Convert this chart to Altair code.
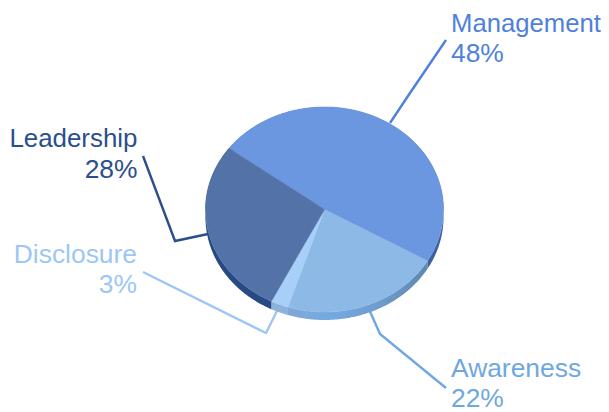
import numpy as np
import pandas as pd
import altair as alt

# Slice data, clockwise from the Management/Leadership boundary
names = ["Management", "Awareness", "Disclosure", "Leadership"]
shares = [48.2, 21.6, 2.4, 27.8]
percent_labels = ["48%", "22%", "3%", "28%"]
top_colors = ["#6b97e0", "#8db9e6", "#a8cff7", "#5272a8"]
side_colors = ["#3c60a0", "#6fa3d8", "#8eb3da", "#274a83"]
text_colors = ["#4f81db", "#6fa8e0", "#9cc7f5", "#2b4f8c"]

# Leader lines (screen pixels)
leader_x = [[390, 410, 446], [368, 380, 446], [279, 266, 143], [208, 175, 143]]
leader_y = [[123, 93, 40], [307, 334, 388], [307, 333, 272], [234, 241, 156]]

# Label anchors
name_x = [451, 451, 137, 137.5]
name_y = [32, 377, 263, 147]
pct_y = [62, 406.5, 293, 178]
label_align = ["left", "left", "right", "right"]
name_size = [25.7, 26.4, 26.4, 25.9]

cx, cy, rx, ry, depth = 324.5, 209.5, 119, 102.5, 8
start_deg = 306.6

X = alt.X("x:Q", scale=alt.Scale(domain=[8, 601]), axis=None)
Y = alt.Y("y:Q", scale=alt.Scale(domain=[412, 8]), axis=None)


def rim(a0, a1):
    t = np.radians(np.linspace(a0, a1, max(int(abs(a1 - a0)) * 2, 8)))
    return cx + rx * np.sin(t), cy - ry * np.cos(t)


def polygon(frame_x, frame_y, fill, stroke=None):
    df = pd.DataFrame({"x": frame_x, "y": frame_y, "i": range(len(frame_x))})
    kw = dict(fill=fill, interpolate="linear-closed", strokeWidth=0.6)
    kw["stroke"] = stroke if stroke else "transparent"
    return alt.Chart(df).mark_line(**kw).encode(
        x=X, y=Y, order=alt.Order("i:Q")
    )


awareness_side = alt.Gradient(
    gradient="linear",
    x1=0, x2=1, y1=0, y2=0,
    stops=[
        alt.GradientStop(color="#7fa9d6", offset=0),
        alt.GradientStop(color="#74a9e2", offset=0.3),
        alt.GradientStop(color="#6f9fd0", offset=0.6),
        alt.GradientStop(color="#5f88b0", offset=1),
    ],
)

edges = start_deg + 3.6 * np.concatenate([[0], np.cumsum(shares)])

sides, tops, lines, texts = [], [], [], []
for k, name in enumerate(names):
    a0, a1 = edges[k], edges[k + 1]
    xs, ys = rim(a0, a1)
    side_fill = awareness_side if name == "Awareness" else side_colors[k]
    sides.append(polygon(
        np.concatenate([xs, xs[::-1]]),
        np.concatenate([ys, ys[::-1] + depth]),
        side_fill,
    ))
    tops.append(polygon(
        np.concatenate([[cx], xs]),
        np.concatenate([[cy], ys]),
        top_colors[k],
        top_colors[k],
    ))
    ldf = pd.DataFrame({"x": leader_x[k], "y": leader_y[k], "i": range(3)})
    lines.append(
        alt.Chart(ldf)
        .mark_line(color=text_colors[k], strokeWidth=2.4)
        .encode(x=X, y=Y, order=alt.Order("i:Q"))
    )
    for tx, ty, label, size in [
        (name_x[k], name_y[k], name, name_size[k]),
        (name_x[k], pct_y[k], percent_labels[k], 26.4),
    ]:
        tdf = pd.DataFrame({"x": [tx], "y": [ty], "t": [label]})
        texts.append(
            alt.Chart(tdf)
            .mark_text(
                font="Liberation Sans",
                fontSize=size,
                align=label_align[k],
                baseline="alphabetic",
                color=text_colors[k],
            )
            .encode(x=X, y=Y, text="t:N")
        )

chart = (
    alt.layer(*lines, *sides, *tops, *texts)
    .properties(width=593, height=404, padding=0,
                autosize=alt.AutoSizeParams(type="none"),
                background="#ffffff")
    .configure_view(strokeWidth=0)
)

chart.save("out.html", embed_options={"renderer": "svg", "actions": False})
